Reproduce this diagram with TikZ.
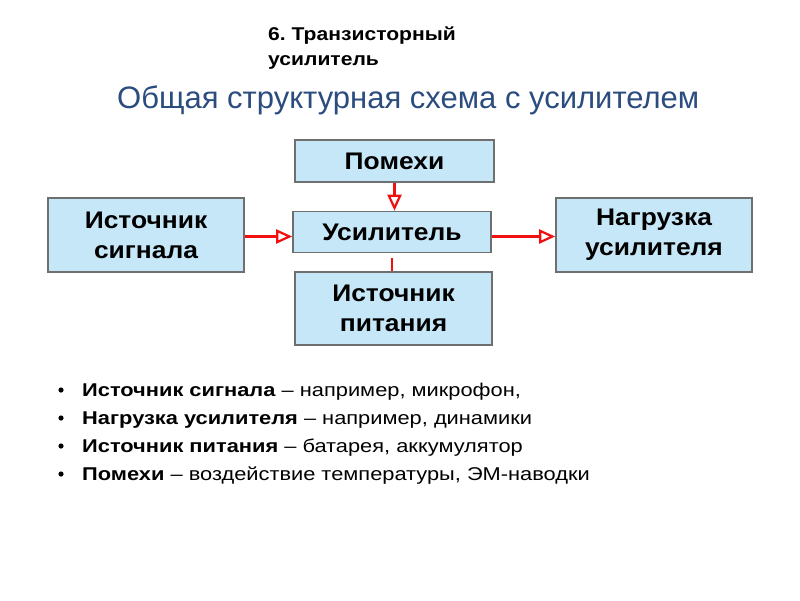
\documentclass[tikz,border=0pt]{standalone}
\usepackage{fontspec}
\setmainfont{Liberation Sans}
\newfontfamily\boxfont[FakeStretch=1.1]{Liberation Sans}
\newfontfamily\listfont[FakeStretch=1.18]{Liberation Sans}
\newfontfamily\hdrfont[FakeStretch=1.14]{Liberation Sans}
\usetikzlibrary{arrows.meta}
\frenchspacing
\definecolor{boxfill}{HTML}{C6E7F8}
\definecolor{boxline}{HTML}{6F6F6F}
\definecolor{titleblue}{HTML}{2B4C7E}
\definecolor{arrred}{HTML}{F01010}
\tikzset{
  blockbox/.style={draw=boxline, line width=1.6pt, fill=boxfill, align=center, inner sep=0pt,
    font=\boxfont\bfseries\fontsize{24}{30}\selectfont},
  redarrow/.style={draw=arrred, line width=2.4pt, -{Triangle[open, length=16pt, width=14pt, line width=2.2pt]}},
  redline/.style={draw=arrred, line width=2.4pt},
  bullettext/.style={anchor=base west, inner sep=0pt, font=\listfont\fontsize{18.5}{22}\selectfont},
  hdrtext/.style={anchor=base west, inner sep=0pt, font=\hdrfont\bfseries\fontsize{18.5}{25}\selectfont},
}
\begin{document}
\begin{tikzpicture}[x=1pt,y=-1pt]
\useasboundingbox (0,0) rectangle (800,600);
\fill[white] (0,0) rectangle (800,600);

\node[hdrtext] (hdr1) at (268,40) {6. Транзисторный};
\node[hdrtext] (hdr2) at (268,65) {усилитель};
\node[anchor=base west, inner sep=0pt, text=titleblue, font=\fontsize{31}{34}\selectfont] (title) at (117,108) {Общая структурная схема с усилителем};

\node[blockbox, minimum width=199pt, minimum height=42pt] (pom) at (394.5,161) {Помехи};
\node[blockbox, minimum width=198pt, minimum height=41pt] (usi) at (392,232) {Усилитель};
\node[blockbox, minimum width=197pt, minimum height=73pt] (pit) at (393.5,308.5) {Источник\\питания};
\node[blockbox, minimum width=196pt, minimum height=74pt] (sig) at (146,235) {Источник\\сигнала};
\node[blockbox, minimum width=196pt, minimum height=74pt] (nag) at (654,235) {Нагрузка\\усилителя};

\coordinate (sa) at ([yshift=-1.5pt]sig.east);
\coordinate (na) at ([yshift=-1.5pt]nag.west);
\draw[redarrow] (sa) -- (sa -| usi.west);
\draw[redarrow] (usi.east |- na) -- (na);
\draw[redarrow] (pom.south) -- (pom.south |- usi.north);
\coordinate (pg) at ([yshift=-5pt]usi.south);
\draw[redline] (pg) -- (pg |- pit.north);

\foreach \y/\t [count=\i] in {396/{\textbf{Источник сигнала} – например, микрофон,},
  424/{\textbf{Нагрузка усилителя} – например, динамики},
  452/{\textbf{Источник питания} – батарея, аккумулятор},
  480/{\textbf{Помехи} – воздействие температуры, ЭМ-наводки}} {
  \node[bullettext] (b\i) at (82,\y) {\t};
  \fill (61,\y-6) circle (2.6pt);
}
\end{tikzpicture}
\end{document}
